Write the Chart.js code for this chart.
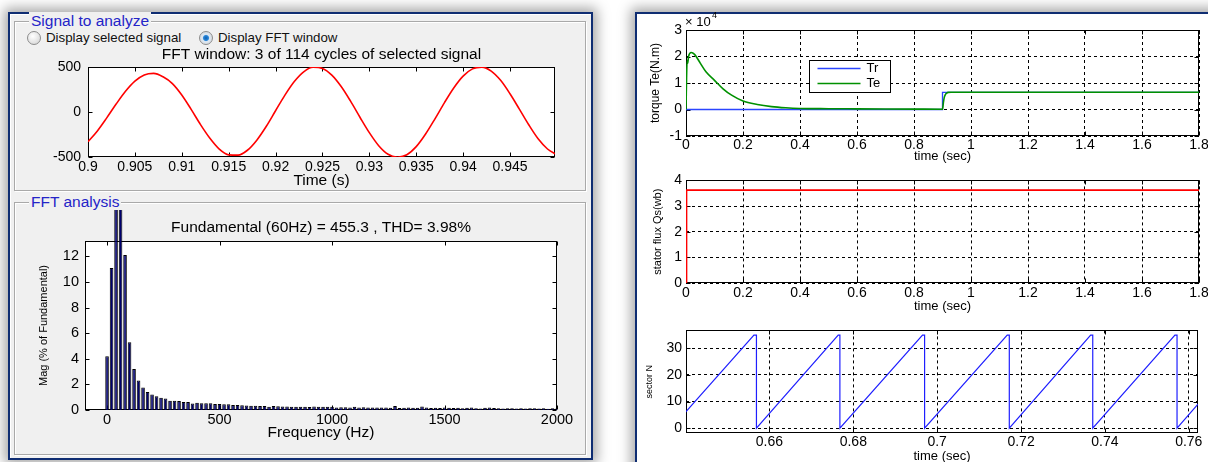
<!DOCTYPE html>
<html>
<head>
<meta charset="utf-8">
<script src="https://cdn.jsdelivr.net/npm/chart.js@4.4.1/dist/chart.umd.min.js"></script>
<style>
body{margin:0;width:1208px;height:462px;overflow:hidden;background:#fff;position:relative;font-family:"Liberation Sans",Arial,sans-serif}
.frame{position:absolute;box-sizing:border-box;border:2px solid #0f2d72;box-shadow:0 0 12px 4px rgba(0,0,0,.35)}
#lf{left:8px;top:12px;width:585px;height:448px;background:#f0f0f0;box-shadow:inset 1px 1px 0 #fff,0 0 12px 4px rgba(0,0,0,.35)}
#rf{left:635px;top:12px;width:620px;height:500px;background:#fff}
.grp{position:absolute;box-sizing:border-box;border:1px solid #a9a9a9;box-shadow:inset 1px 1px 0 #fff,1px 1px 0 #fff}
.grp span{position:absolute;left:14px;top:-10px;background:#f0f0f0;color:#2424c8;font-size:15.5px;line-height:18px;padding:0 2px}
.radio{position:absolute;font-size:13.3px;color:#111;line-height:16px;white-space:nowrap}
.radio i{position:absolute;left:-19px;top:1px;width:12px;height:12px;border-radius:50%;border:1px solid #8c8c8c;background:radial-gradient(circle at 40% 35%,#fff,#d0d0d0)}
.radio i.on{background:radial-gradient(circle,#0d5fb0 0,#2a86d8 2.5px,#dfe9f3 3.6px,#cfcfcf 100%)}
canvas{position:absolute}
</style>
</head>
<body>
<div id="lf" class="frame"></div>
<div class="grp" style="left:14px;top:21px;width:572px;height:170px"><span>Signal to analyze</span></div>
<div class="radio" style="left:46px;top:30px"><i></i>Display selected signal</div>
<div class="radio" style="left:218px;top:30px"><i class="on"></i>Display FFT window</div>
<div class="grp" style="left:14px;top:202px;width:572px;height:253px"><span>FFT analysis</span></div>
<canvas id="c1" width="560" height="155" style="left:20px;top:40px"></canvas>
<canvas id="c2" width="560" height="245" style="left:20px;top:205px"></canvas>
<div id="rf" class="frame"></div>
<canvas id="c3" width="584" height="160" style="left:636px;top:8px"></canvas>
<canvas id="c4" width="584" height="150" style="left:636px;top:168px"></canvas>
<canvas id="c5" width="584" height="150" style="left:636px;top:318px"></canvas>
<script>
// ===== DATA =====
// FFT window signal (s, value)
const sigT = [0.900,0.901,0.902,0.903,0.904,0.905,0.906,0.907,0.908,0.909,0.910,0.911,0.912,0.913,0.914,0.915,0.916,0.917,0.918,0.919,0.920,0.921,0.922,0.923,0.924,0.925,0.926,0.927,0.928,0.929,0.930,0.931,0.932,0.933,0.934,0.935,0.936,0.937,0.938,0.939,0.940,0.941,0.942,0.943,0.944,0.945,0.946,0.947,0.948,0.949,0.950];
const sigV = [-330,-210,-65,88,230,343,412,429,391,316,189,29,-140,-292,-412,-476,-479,-425,-313,-161,14,188,339,447,497,484,410,283,120,-58,-229,-374,-470,-504,-475,-385,-245,-76,102,267,399,479,499,455,352,203,32,-142,-298,-411,-476];
const sigXTicks = [0.9,0.905,0.91,0.915,0.92,0.925,0.93,0.935,0.94,0.945];
const sigYTicks = [-500,0,500];

// FFT spectrum (Hz, % of fundamental)
const fftFreq = [0,20,40,60,80,100,120,140,160,180,200,220,240,260,280,300,320,340,360,380,400,420,440,460,480,500,520,540,560,580,600,620,640,660,680,700,720,740,760,780,800,820,840,860,880,900,920,940,960,980,1000,1020,1040,1060,1080,1100,1120,1140,1160,1180,1200,1220,1240,1260,1280,1300,1320,1340,1360,1380,1400,1420,1440,1460,1480,1500,1520,1540,1560,1580,1600,1620,1640,1660,1680,1700,1720,1740,1760,1780,1800,1820,1840,1860,1880,1900,1920,1940,1960,1980,2000];
const fftMag = [4.2,11.1,38,100,12.1,5.3,3.2,2.3,1.75,1.4,1.22,1.07,0.96,0.9,0.72,0.72,0.7,0.63,0.62,0.5,0.57,0.53,0.52,0.52,0.46,0.46,0.45,0.45,0.4,0.4,0.37,0.36,0.33,0.33,0.32,0.32,0.26,0.32,0.3,0.27,0.27,0.26,0.26,0.25,0.26,0.24,0.27,0.26,0.25,0.26,0.25,0.2,0.21,0.21,0.2,0.25,0.2,0.21,0.19,0.2,0.19,0.2,0.19,0.18,0.32,0.16,0.18,0.19,0.17,0.18,0.27,0.2,0.15,0.18,0.15,0.2,0.17,0.15,0.17,0.14,0.18,0.2,0.14,0.12,0.18,0.19,0.15,0.14,0.12,0.13,0.13,0.12,0.14,0.12,0.13,0.14,0.11,0.14,0.1,0.13,0.12];
const fftXTicks = [0,500,1000,1500,2000];
const fftYTicks = [0,2,4,6,8,10,12];

// torque (s, N.m)
const trT = [0,0.9,0.9,1.8];
const trV = [0,0,6500,6500];
const teT = [0,0.001,0.002,0.004,0.006,0.009,0.018,0.03,0.05,0.07,0.1,0.13,0.16,0.2,0.25,0.3,0.35,0.4,0.5,0.6,0.7,0.8,0.9,0.903,0.906,0.91,0.915,0.92,0.93,1.8];
const teV = [0,6000,12000,18500,17500,20000,21500,20800,17500,14200,11000,7800,5400,3200,1900,1100,650,400,300,250,200,150,100,2500,4500,5600,6200,6450,6500,6500];
const timeTicks = [0,0.2,0.4,0.6,0.8,1,1.2,1.4,1.6,1.8];
const torqueTicks = [-10000,0,10000,20000,30000];

// stator flux (s, Wb)
const fluxT = [0,0,0.003,0.003,1.8];
const fluxV = [0,2.4,2.4,3.62,3.62];
const fluxTicks = [0,1,2,3,4];

// sector number (s, N)
const secT = [0.64,0.6563,0.6569,0.6569,0.6764,0.6768,0.6768,0.6965,0.6970,0.6970,0.7167,0.7172,0.7172,0.7366,0.7371,0.7371,0.7567,0.7572,0.7572,0.7622];
const secN = [6,35,35,0,35,35,0,35,35,0,35,35,0,35,35,0,35,35,0,9];
const secXTicks = [0.66,0.68,0.7,0.72,0.74,0.76];
const secYTicks = [0,10,20,30];

// ===== HELPERS =====
Chart.defaults.font.family = '"Liberation Sans", Arial, sans-serif';
Chart.defaults.color = '#000';
Chart.defaults.animation = false;
Chart.defaults.events = [];
Chart.defaults.plugins.legend.display = false;
Chart.defaults.plugins.tooltip.enabled = false;

const pts = (xs, ys) => xs.map((x, i) => ({ x: x, y: ys[i] }));
const num = v => String(+v.toFixed(3));

// matlab style axes: white area, box, inner ticks, title, exponent, legend
const matlabAxes = {
    id: 'matlabAxes',
    beforeDraw(chart) {
        const a = chart.chartArea, ctx = chart.ctx;
        ctx.save();
        ctx.fillStyle = '#fff';
        ctx.fillRect(a.left, a.top, a.width, a.height);
        ctx.restore();
    },
    beforeDatasetsDraw(chart, args, o) {
        const a = chart.chartArea, ctx = chart.ctx;
        const L = Math.round(a.left) + 0.5, R = Math.round(a.right) - 0.5;
        const T = Math.round(a.top) + 0.5, B = Math.round(a.bottom) - 0.5;
        const len = o.tickLen || 4;
        ctx.save();
        ctx.strokeStyle = '#000';
        ctx.lineWidth = 1;
        ctx.strokeRect(L, T, R - L, B - T);
        ctx.beginPath();
        const xs = chart.scales.x, ys = chart.scales.y;
        xs.ticks.forEach(t => {
            const p = Math.round(xs.getPixelForValue(t.value)) + 0.5;
            ctx.moveTo(p, B); ctx.lineTo(p, B - len);
            ctx.moveTo(p, T); ctx.lineTo(p, T + len);
        });
        ys.ticks.forEach(t => {
            const p = Math.round(ys.getPixelForValue(t.value)) + 0.5;
            ctx.moveTo(L, p); ctx.lineTo(L + len, p);
            ctx.moveTo(R, p); ctx.lineTo(R - len, p);
        });
        ctx.stroke();
        ctx.restore();
    },
    afterDraw(chart, args, o) {
        const a = chart.chartArea, ctx = chart.ctx;
        ctx.save();
        ctx.fillStyle = '#000';
        ctx.textBaseline = 'middle';
        if (o.title) {
            ctx.font = o.titleSize + 'px "Liberation Sans", Arial, sans-serif';
            ctx.textAlign = 'center';
            ctx.fillText(o.title, (a.left + a.right) / 2, a.top - o.titleGap);
        }
        if (o.exponent) {
            ctx.font = '13px "Liberation Sans", Arial, sans-serif';
            ctx.textAlign = 'left';
            ctx.fillText('\u00d7 10', a.left - 1, a.top - 8);
            ctx.font = '9px "Liberation Sans", Arial, sans-serif';
            ctx.fillText(o.exponent, a.left + 26, a.top - 14);
        }
        const lg = o.legend;
        if (lg) {
            const x0 = Math.round(a.left + lg.dx) + 0.5, y0 = Math.round(a.top + lg.dy) + 0.5;
            ctx.fillStyle = '#fff';
            ctx.fillRect(x0, y0, lg.w, lg.h);
            ctx.strokeStyle = '#000';
            ctx.lineWidth = 1;
            ctx.strokeRect(x0, y0, lg.w, lg.h);
            ctx.font = '13px "Liberation Sans", Arial, sans-serif';
            ctx.textAlign = 'left';
            chart.data.datasets.forEach((d, i) => {
                const y = y0 + 8 + i * 15;
                ctx.strokeStyle = d.borderColor;
                ctx.lineWidth = 1.5;
                ctx.beginPath();
                ctx.moveTo(x0 + 8, y); ctx.lineTo(x0 + 51, y);
                ctx.stroke();
                ctx.fillStyle = '#000';
                ctx.fillText(d.label, x0 + 57, y);
            });
        }
        ctx.restore();
    }
};
Chart.register(matlabAxes);

function axis(o) {
    return {
        type: 'linear',
        min: o.min,
        max: o.max,
        offset: false,
        afterFit: s => { if (o.w) s.width = o.w; if (o.h) s.height = o.h; },
        afterBuildTicks: s => { s.ticks = o.ticks.map(v => ({ value: v })); },
        ticks: { color: '#000', font: { size: o.font }, padding: o.pad, callback: o.fmt || num, maxRotation: 0, autoSkip: false },
        grid: o.grid ? { color: '#000', lineWidth: 1, drawTicks: false } : { display: false, drawTicks: false },
        border: { display: false, dash: [3, 3] },
        title: { display: !!o.title, text: o.title, color: '#000', font: { size: o.titleSize }, padding: o.titlePad }
    };
}

// ===== 1. FFT WINDOW SIGNAL =====
new Chart(document.getElementById('c1'), {
    type: 'line',
    data: { datasets: [{ data: pts(sigT, sigV), borderColor: '#ff0000', borderWidth: 1.6, pointRadius: 0, cubicInterpolationMode: 'monotone' }] },
    options: {
        responsive: false,
        layout: { padding: { top: 27, right: 25, left: 0, bottom: 0 } },
        plugins: { matlabAxes: { title: 'FFT window: 3 of 114 cycles of selected signal', titleSize: 15.5, titleGap: 12 } },
        scales: {
            x: axis({ min: 0.9, max: 0.9498, ticks: sigXTicks, h: 38, font: 14, pad: 2, title: 'Time (s)', titleSize: 15.5, titlePad: { top: 0, bottom: 5 } }),
            y: axis({ min: -500, max: 500, ticks: sigYTicks, w: 68, font: 14, pad: 7 })
        }
    }
});

// ===== 2. FFT SPECTRUM =====
new Chart(document.getElementById('c2'), {
    type: 'bar',
    data: { datasets: [{ data: pts(fftFreq, fftMag), backgroundColor: '#00006e', borderColor: '#000', borderWidth: 1, barPercentage: 0.8, categoryPercentage: 1, clip: { left: 0, top: 31, right: 0, bottom: 0 } }] },
    options: {
        responsive: false,
        layout: { padding: { top: 36, right: 23, left: 0, bottom: 0 } },
        plugins: { matlabAxes: { title: 'Fundamental (60Hz) = 455.3 , THD= 3.98%', titleSize: 15.5, titleGap: 13 } },
        scales: {
            x: axis({ min: -98, max: 2000, ticks: fftXTicks, h: 40, font: 14.5, pad: 1, title: 'Frequency (Hz)', titleSize: 15.5, titlePad: { top: 0, bottom: 8 } }),
            y: axis({ min: 0, max: 13.2, ticks: fftYTicks, w: 65, font: 14.5, pad: 6, title: 'Mag (% of Fundamental)', titleSize: 11, titlePad: { top: 17, bottom: 0 } })
        }
    }
});

// ===== 3. TORQUE =====
new Chart(document.getElementById('c3'), {
    type: 'line',
    data: { datasets: [
        { label: 'Tr', data: pts(trT, trV), borderColor: '#2b45ff', borderWidth: 1.3, pointRadius: 0, order: 1 },
        { label: 'Te', data: pts(teT, teV), borderColor: '#009100', borderWidth: 1.6, pointRadius: 0, order: 0, cubicInterpolationMode: 'monotone' }
    ] },
    options: {
        responsive: false,
        layout: { padding: { top: 22, right: 21, left: 0, bottom: 0 } },
        plugins: { matlabAxes: { exponent: '4', legend: { dx: 123, dy: 30, w: 81, h: 32 } } },
        scales: {
            x: axis({ min: 0, max: 1.8, ticks: timeTicks, h: 32, font: 14, pad: 1, grid: true, title: 'time (sec)', titleSize: 13, titlePad: { top: 0, bottom: 3.5 } }),
            y: axis({ min: -10000, max: 30000, ticks: torqueTicks, w: 50, font: 14, pad: 4, grid: true, fmt: v => String(v / 10000), title: 'torque Te(N.m)', titleSize: 12, titlePad: { top: 12, bottom: 0 } })
        }
    }
});

// ===== 4. STATOR FLUX =====
new Chart(document.getElementById('c4'), {
    type: 'line',
    data: { datasets: [{ label: 'flux', data: pts(fluxT, fluxV), borderColor: '#ff0000', borderWidth: 1.6, pointRadius: 0 }] },
    options: {
        responsive: false,
        layout: { padding: { top: 12, right: 21, left: 0, bottom: 0 } },
        scales: {
            x: axis({ min: 0, max: 1.8, ticks: timeTicks, h: 35, font: 14, pad: 2, grid: true, title: 'time (sec)', titleSize: 13, titlePad: { top: 0, bottom: 3.5 } }),
            y: axis({ min: 0, max: 4, ticks: fluxTicks, w: 50, font: 14, pad: 4, grid: true, title: 'stator flux Qs(wb)', titleSize: 11, titlePad: { top: 15, bottom: 0 } })
        }
    }
});

// ===== 5. SECTOR =====
new Chart(document.getElementById('c5'), {
    type: 'line',
    data: { datasets: [{ label: 'sector', data: pts(secT, secN), borderColor: '#1f1fff', borderWidth: 1.2, pointRadius: 0 }] },
    options: {
        responsive: false,
        layout: { padding: { top: 11, right: 22, left: 0, bottom: 0 } },
        scales: {
            x: axis({ min: 0.6401, max: 0.7622, ticks: secXTicks, h: 35, font: 14, pad: 1, grid: true, title: 'time (sec)', titleSize: 13, titlePad: { top: 0, bottom: 4 } }),
            y: axis({ min: -1.85, max: 36.8, ticks: secYTicks, w: 50, font: 14, pad: 4, grid: true, title: 'sector N', titleSize: 9, titlePad: { top: 8, bottom: 0 } })
        }
    }
});
</script>
</body>
</html>
